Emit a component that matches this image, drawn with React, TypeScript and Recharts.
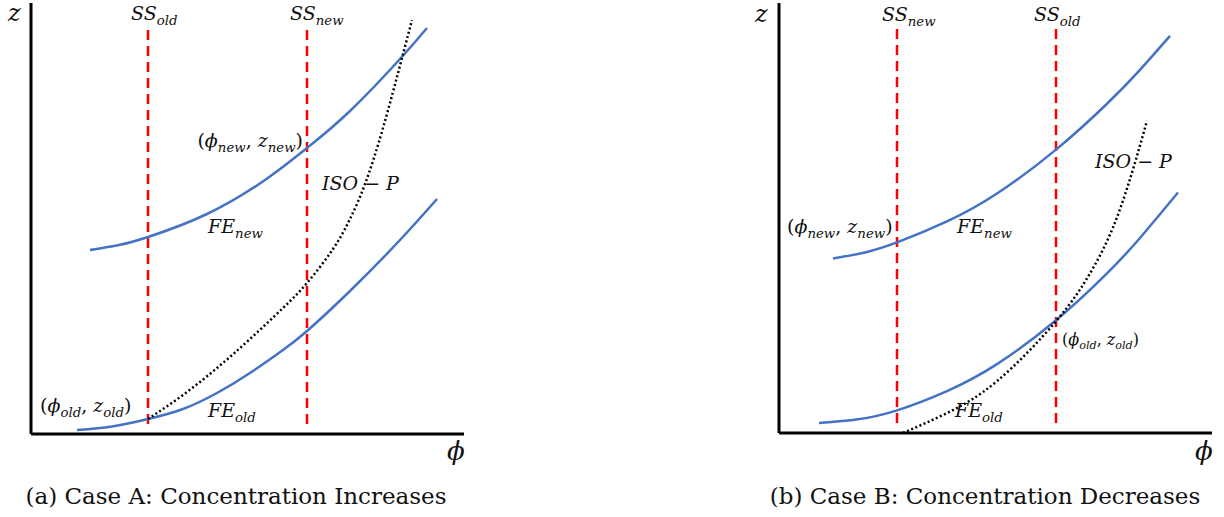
import React from "react";
import { LineChart, Line, XAxis, YAxis, ReferenceLine, ReferenceDot } from "recharts";

type Pt = { phi: number; z: number };

// Case A: concentration increases
const FE_NEW_A: Pt[] = [
  { phi: 59, z: 184 }, { phi: 88, z: 189 }, { phi: 117, z: 197 }, { phi: 176, z: 220 },
  { phi: 234, z: 254 }, { phi: 276, z: 286 }, { phi: 319, z: 323 }, { phi: 369, z: 375 }, { phi: 396, z: 406 },
];
const FE_OLD_A: Pt[] = [
  { phi: 46, z: 4 }, { phi: 81, z: 7.5 }, { phi: 117, z: 15 }, { phi: 152, z: 25 },
  { phi: 186, z: 41 }, { phi: 219, z: 61 }, { phi: 252, z: 84 }, { phi: 276, z: 103 },
  { phi: 319, z: 143 }, { phi: 369, z: 194 }, { phi: 406, z: 235 },
];
const ISO_A: Pt[] = [
  { phi: 117, z: 15 }, { phi: 152, z: 39 }, { phi: 186, z: 66 }, { phi: 219, z: 95 },
  { phi: 252, z: 126 }, { phi: 276, z: 151 }, { phi: 302, z: 185 }, { phi: 319, z: 215 },
  { phi: 334, z: 250 }, { phi: 352, z: 306 }, { phi: 371, z: 376 }, { phi: 381, z: 414 },
];
const SS_A = { old: 117, new: 276 };

// Case B: concentration decreases
const FE_NEW_B: Pt[] = [
  { phi: 54, z: 175 }, { phi: 86, z: 181 }, { phi: 118, z: 191 }, { phi: 168, z: 212 },
  { phi: 218, z: 240 }, { phi: 277, z: 284 }, { phi: 328, z: 330 }, { phi: 361, z: 364 }, { phi: 391, z: 398 },
];
const FE_OLD_B: Pt[] = [
  { phi: 40, z: 10 }, { phi: 79, z: 13.7 }, { phi: 118, z: 22.7 }, { phi: 168, z: 42 },
  { phi: 218, z: 69 }, { phi: 277, z: 113 }, { phi: 328, z: 160 }, { phi: 361, z: 195.5 }, { phi: 399, z: 241 },
];
const ISO_B: Pt[] = [
  { phi: 124, z: 0 }, { phi: 168, z: 20 }, { phi: 218, z: 52 }, { phi: 277, z: 112 },
  { phi: 311, z: 160 }, { phi: 334, z: 206 }, { phi: 353, z: 261 }, { phi: 368, z: 313 },
];
const SS_B = { new: 118, old: 277 };

const SS_SPAN: [number, number] = [10, 407];
const DOMAIN_X: [number, number] = [0, 433];
const DOMAIN_Z: [number, number] = [0, 431];

const BLUE = "#4472c4";
const RED = "#ff0000";
const SERIF = "'DejaVu Serif', 'Liberation Serif', serif";

type Part = { t: string; it?: boolean; sub?: boolean };

const it = (t: string): Part => ({ t, it: true });
const up = (t: string): Part => ({ t });
const sub = (t: string): Part => ({ t, it: true, sub: true });

function MathText({ x, y, parts, size, anchor }: { x: number; y: number; parts: Part[]; size: number; anchor: string }) {
  const shift = size * 0.25;
  let inSub = false;
  return (
    <text x={x} y={y} fontFamily={SERIF} fontSize={size} fill="#111" textAnchor={anchor as any}>
      {parts.map((p, i) => {
        let dy = 0;
        if (p.sub && !inSub) dy = shift;
        if (!p.sub && inSub) dy = -shift;
        inSub = !!p.sub;
        return (
          <tspan key={i} dy={dy} fontStyle={p.it ? "italic" : "normal"} fontSize={p.sub ? size * 0.7 : size}>
            {p.t}
          </tspan>
        );
      })}
    </text>
  );
}

function label(key: string, x: number, y: number, parts: Part[], size = 19, anchor = "start") {
  return (
    <ReferenceDot
      key={key}
      x={x}
      y={y}
      r={0}
      ifOverflow="visible"
      shape={(p: any) => <MathText x={p.cx} y={p.cy} parts={parts} size={size} anchor={anchor} />}
    />
  );
}

const ssLine = (key: string, x: number) => (
  <ReferenceLine
    key={key}
    segment={[{ x, y: SS_SPAN[0] }, { x, y: SS_SPAN[1] }]}
    stroke={RED}
    strokeWidth={2.5}
    strokeDasharray="10 6"
    ifOverflow="visible"
  />
);

const axisLines = () => [
  <ReferenceLine key="ax" y={0} stroke="#000" strokeWidth={3} ifOverflow="visible" />,
  <ReferenceLine key="ay" x={0} stroke="#000" strokeWidth={3} ifOverflow="visible" />,
];

const lineProps = { dataKey: "z", type: "natural" as const, dot: false, isAnimationActive: false, strokeWidth: 2.5 };

function PanelA() {
  return (
    <LineChart width={490} height={470} margin={{ top: 3, left: 31, right: 26, bottom: 36 }}>
      <XAxis type="number" dataKey="phi" domain={DOMAIN_X} hide />
      <YAxis type="number" domain={DOMAIN_Z} hide />
      {axisLines()}
      {ssLine("ssold", SS_A.old)}
      {ssLine("ssnew", SS_A.new)}
      <Line data={FE_NEW_A} stroke={BLUE} {...lineProps} />
      <Line data={FE_OLD_A} stroke={BLUE} {...lineProps} />
      <Line data={ISO_A} stroke="#000" strokeDasharray="2 2.5" {...lineProps} />
      {label("l1", 100, 414, [it("SS"), sub("old")])}
      {label("l2", 259, 414, [it("SS"), sub("new")])}
      {label("l3", 272, 287, [up("("), it("ϕ"), sub("new"), up(", "), it("z"), sub("new"), up(")")], 19, "end")}
      {label("l4", 291, 244, [it("ISO"), up(" − "), it("P")])}
      {label("l5", 177, 201, [it("FE"), sub("new")])}
      {label("l6", 177, 17, [it("FE"), sub("old")])}
      {label("l7", 9, 22, [up("("), it("ϕ"), sub("old"), up(", "), it("z"), sub("old"), up(")")])}
      {label("l8", -23, 413, [it("z")], 24)}
      {label("l9", 416, -26, [it("ϕ")], 26)}
    </LineChart>
  );
}

function PanelB() {
  return (
    <LineChart width={484} height={470} margin={{ top: 3, left: 39, right: 12, bottom: 37 }}>
      <XAxis type="number" dataKey="phi" domain={DOMAIN_X} hide />
      <YAxis type="number" domain={DOMAIN_Z} hide />
      {axisLines()}
      {ssLine("ssnew", SS_B.new)}
      {ssLine("ssold", SS_B.old)}
      <Line data={FE_NEW_B} stroke={BLUE} {...lineProps} />
      <Line data={FE_OLD_B} stroke={BLUE} {...lineProps} />
      <Line data={ISO_B} stroke="#000" strokeDasharray="2 2.5" {...lineProps} />
      {label("l1", 103, 413, [it("SS"), sub("new")])}
      {label("l2", 255, 413, [it("SS"), sub("old")])}
      {label("l3", 8, 200, [up("("), it("ϕ"), sub("new"), up(", "), it("z"), sub("new"), up(")")])}
      {label("l4", 316, 266, [it("ISO"), up(" − "), it("P")])}
      {label("l5", 178, 200, [it("FE"), sub("new")])}
      {label("l6", 176, 16, [it("FE"), sub("old")])}
      {label("l7", 283, 88, [up("("), it("ϕ"), sub("old"), up(", "), it("z"), sub("old"), up(")")], 16)}
      {label("l8", -24, 412, [it("z")], 24)}
      {label("l9", 416, -27, [it("ϕ")], 26)}
    </LineChart>
  );
}

const caption: React.CSSProperties = {
  position: "absolute",
  top: 480,
  width: 480,
  textAlign: "center",
  fontFamily: SERIF,
  fontSize: 23,
  lineHeight: "32px",
  color: "#111",
  whiteSpace: "nowrap",
};

export default function App() {
  return (
    <div style={{ position: "fixed", left: 0, top: 0, width: 1224, height: 517, background: "#fff", overflow: "hidden" }}>
      <div style={{ position: "absolute", left: 0, top: 0 }}>
        <PanelA />
      </div>
      <div style={{ position: "absolute", left: 740, top: 0 }}>
        <PanelB />
      </div>
      <div style={{ ...caption, left: 236 - 240 }}>(a) Case A: Concentration Increases</div>
      <div style={{ ...caption, left: 985 - 240 }}>(b) Case B: Concentration Decreases</div>
    </div>
  );
}
